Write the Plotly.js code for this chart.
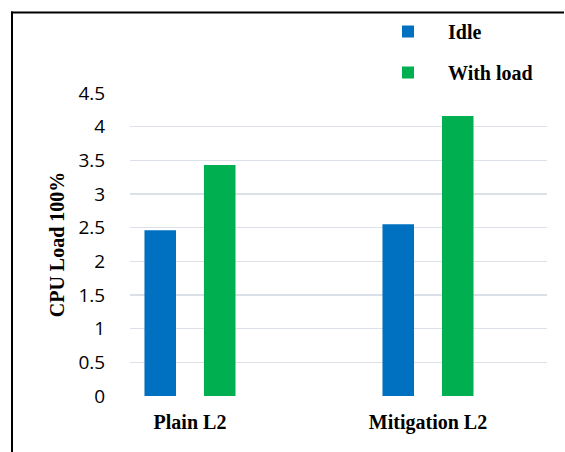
<!DOCTYPE html>
<html>
<head>
<meta charset="utf-8">
<script src="https://cdn.plot.ly/plotly-3.0.1.min.js"></script>
<style>html,body{margin:0;padding:0;background:#fff;}#chart{width:565px;height:452px;}</style>
</head>
<body>
<div id="chart"></div>
<script>
const categories = ["Plain L2", "Mitigation L2"];
const seriesNames = ["Idle", "With load"];
const idleValues = [2.46, 2.55];
const loadValues = [3.43, 4.16];
const yTickValues = [0, 0.5, 1, 1.5, 2, 2.5, 3, 3.5, 4, 4.5];
const yTickLabels = ["0", "0.5", "1", "1.5", "2", "2.5", "3", "3.5", "4", "4.5"];

const W = 565, H = 452;
const M = {l: 130, r: 18, t: 93, b: 56, autoexpand: false};
const pw = W - M.l - M.r, ph = H - M.t - M.b;
const px2x = p => (p - M.l) / pw;
const py2y = p => (H - M.b - p) / ph;

const serif = "'Liberation Serif', 'Times New Roman', serif";
const sans = "'Open Sans', 'Liberation Sans', sans-serif";

const traces = [
  {type: "bar", name: seriesNames[0], x: categories, y: idleValues,
   marker: {color: "#0070C0"}, legendgroup: "a", hoverinfo: "x+y"},
  {type: "bar", name: seriesNames[1], x: categories, y: loadValues,
   marker: {color: "#00B050"}, legendgroup: "b", hoverinfo: "x+y"}
];

const layout = {
  width: W, height: H,
  margin: M,
  paper_bgcolor: "#ffffff",
  plot_bgcolor: "#ffffff",
  barmode: "group",
  bargap: 0.5,
  bargroupgap: 0.47,
  showlegend: true,
  legend: {
    xref: "container", yref: "container",
    x: 368 / W, y: 1 - 12 / H, xanchor: "left", yanchor: "top",
    font: {family: serif, size: 20, color: "#000", weight: "bold"},
    itemwidth: 70,
    tracegroupgap: 12,
    traceorder: "grouped",
    bgcolor: "rgba(0,0,0,0)",
    borderwidth: 0
  },
  xaxis: {
    type: "category",
    range: [-0.252, 1.5],
    showgrid: false, zeroline: false, showline: false,
    ticks: "outside", ticklen: 8, tickcolor: "rgba(0,0,0,0)",
    tickfont: {family: serif, size: 20, color: "#000", weight: "bold"},
    fixedrange: true
  },
  yaxis: {
    range: [0, 4.5],
    tickvals: yTickValues, ticktext: yTickLabels,
    showgrid: true, gridcolor: "#dce1e9", gridwidth: 1.5,
    zeroline: false, showline: false,
    ticks: "outside", ticklen: 20, tickcolor: "rgba(0,0,0,0)",
    tickfont: {family: sans, size: 19, color: "#000"},
    title: {text: "CPU Load 100%", font: {family: serif, size: 20, color: "#000", weight: "bold"}, standoff: 8},
    fixedrange: true
  },
  shapes: [
    {type: "line", xref: "paper", yref: "paper", x0: px2x(11), x1: px2x(564), y0: py2y(12.5), y1: py2y(12.5),
     line: {color: "#000", width: 2}},
    {type: "line", xref: "paper", yref: "paper", x0: px2x(12), x1: px2x(12), y0: py2y(11.5), y1: py2y(460),
     line: {color: "#000", width: 2}}
  ]
};

Plotly.newPlot("chart", traces, layout, {displayModeBar: false, staticPlot: true});
</script>
</body>
</html>
